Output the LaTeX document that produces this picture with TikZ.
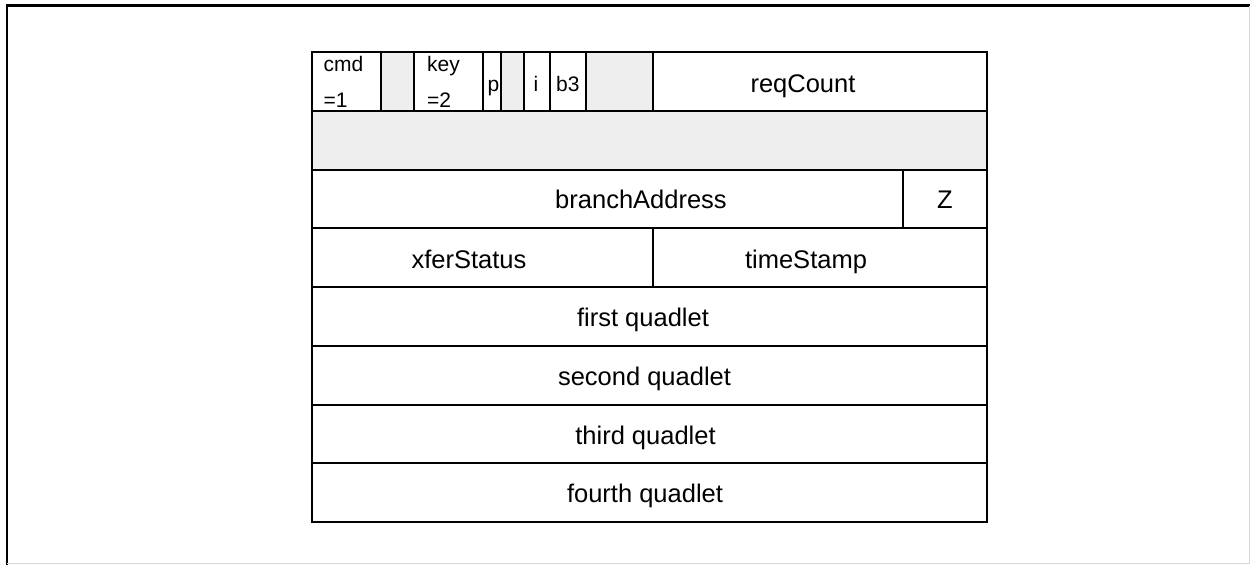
\documentclass[tikz,border=0pt]{standalone}
\usepackage{fontspec}
\setmainfont{Liberation Sans}
\definecolor{cellgray}{HTML}{EEEEEE}
\definecolor{framegray}{HTML}{D6D6D6}
\begin{document}
\begin{tikzpicture}[x=1pt,y=-1pt,
  cell/.style={draw=black, line width=2pt, inner sep=0pt, outer sep=0pt, anchor=north west, minimum height=58.75pt},
  shaded/.style={cell, fill=cellgray},
  big/.style={font=\fontsize{25.5}{30}\selectfont, inner sep=0pt, anchor=base},
  small/.style={font=\fontsize{21}{25}\selectfont, inner sep=0pt, anchor=base west}]
\useasboundingbox (0,0) rectangle (1250,565);
% outer frame
\draw[line width=2.5pt] (7,565) -- (7,5.5) -- (1250,5.5);
\draw[framegray, line width=1pt] (1249,5.5) -- (1249,563.5) -- (7,563.5);
% row 1
\node[cell, minimum width=68.7pt] (cmd) at (312,52) {};
\node[shaded, minimum width=33pt] (r1g1) at (380.7,52) {};
\node[cell, minimum width=69.6pt] (key) at (413.7,52) {};
\node[cell, minimum width=18pt] (p) at (483.3,52) {};
\node[shaded, minimum width=23pt] (r1g2) at (501.3,52) {};
\node[cell, minimum width=25.4pt] (i) at (524.3,52) {};
\node[cell, minimum width=36pt] (b3) at (549.7,52) {};
\node[shaded, minimum width=67pt] (r1g3) at (585.7,52) {};
\node[cell, minimum width=334.3pt] (req) at (652.7,52) {};
% row 2
\node[shaded, minimum width=675pt] (r2) at (312,110.75) {};
% row 3
\node[cell, minimum width=591pt] (branch) at (312,169.5) {};
\node[cell, minimum width=84pt] (z) at (903,169.5) {};
% row 4
\node[cell, minimum width=340.7pt] (xfer) at (312,228.25) {};
\node[cell, minimum width=334.3pt] (ts) at (652.7,228.25) {};
% rows 5-8
\node[cell, minimum width=675pt] (q1) at (312,287) {};
\node[cell, minimum width=675pt] (q2) at (312,345.75) {};
\node[cell, minimum width=675pt] (q3) at (312,404.5) {};
\node[cell, minimum width=675pt] (q4) at (312,463.25) {};
% small labels
\node[small] (tcmd) at (323.5,71) {cmd};
\node[small] (tcmd1) at (323.5,107) {=1};
\node[small] (tkey) at (427,71) {key};
\node[small] (tkey2) at (427,107) {=2};
\node[small] (tp) at (487.5,91) {p};
\node[small] (ti) at (533.5,91) {i};
\node[small] (tb3) at (556,91) {b3};
% big labels
\node[big] (treq) at (803,92) {reqCount};
\node[big] (tbranch) at (641,208) {branchAddress};
\node[big] (tz) at (945,208) {Z};
\node[big] (txfer) at (469,268) {xferStatus};
\node[big] (tts) at (806,268) {timeStamp};
\node[big] (tq1) at (643,326) {first quadlet};
\node[big] (tq2) at (644.5,385) {second quadlet};
\node[big] (tq3) at (645.5,444) {third quadlet};
\node[big] (tq4) at (645,502.5) {fourth quadlet};
\end{tikzpicture}
\end{document}
